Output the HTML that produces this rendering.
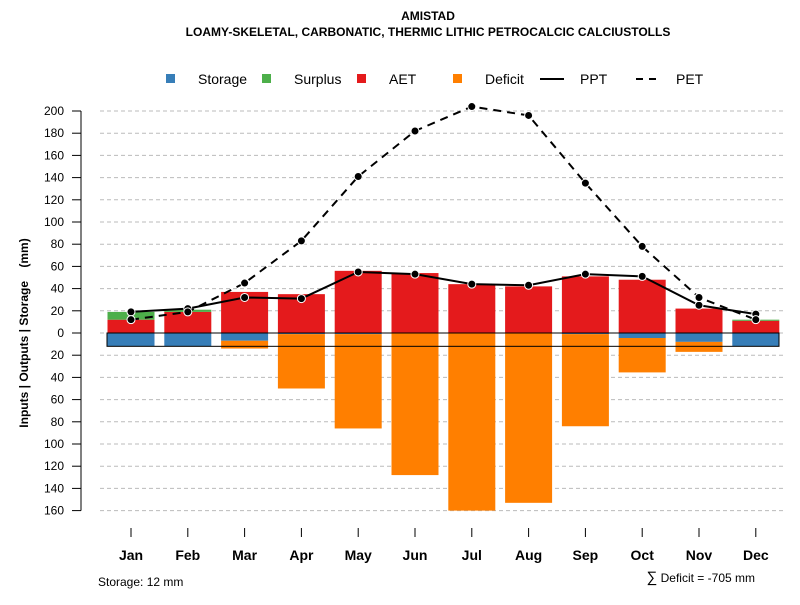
<!DOCTYPE html>
<html><head><meta charset="utf-8"><style>
body{margin:0;background:#fff}
svg text{font-family:"Liberation Sans",Arial,sans-serif}
</style></head><body>
<svg id="c" width="800" height="600" viewBox="0 0 800 600" xmlns="http://www.w3.org/2000/svg">
<text x="428" y="20" font-size="12" font-weight="bold" text-anchor="middle">AMISTAD</text>
<text x="428" y="36" font-size="12" font-weight="bold" text-anchor="middle">LOAMY-SKELETAL, CARBONATIC, THERMIC LITHIC PETROCALCIC CALCIUSTOLLS</text>
<g id="legend" font-size="14">
<rect x="166" y="74" width="9" height="9" fill="#377EB8"/><text x="198" y="84">Storage</text>
<rect x="262" y="74" width="9" height="9" fill="#4DAF4A"/><text x="294" y="84">Surplus</text>
<rect x="357" y="74" width="9" height="9" fill="#E41A1C"/><text x="389" y="84">AET</text>
<rect x="453" y="74" width="9" height="9" fill="#FF7F00"/><text x="485" y="84">Deficit</text>
<line x1="540" y1="79" x2="564" y2="79" stroke="#000" stroke-width="2"/><text x="580" y="84">PPT</text>
<line x1="636" y1="79" x2="660" y2="79" stroke="#000" stroke-width="2" stroke-dasharray="7,6"/><text x="676" y="84">PET</text>
</g>
<g id="grid"></g><g id="bars"></g><g id="lines"></g><g id="axes"></g>
<text transform="translate(28,333) rotate(-90)" font-size="12" font-weight="bold" text-anchor="middle">Inputs | Outputs | Storage&#160;&#160;&#160;&#160;(mm)</text>
<text x="98" y="586" font-size="12">Storage: 12 mm</text>
<text x="755" y="582" font-size="12" text-anchor="end"><tspan font-size="15">∑</tspan> Deficit = -705 mm</text>
</svg>
<script>
const months=["Jan","Feb","Mar","Apr","May","Jun","Jul","Aug","Sep","Oct","Nov","Dec"];
const aet=[12,19,37,35,56,54,44,42,51,48,22,11];
const surplus=[7,2,0,0,0,0,0,0,0,0,0,1];
const storage=[12,12,7,1,1,0,0,0,1,4.5,8,12];
const deficit=[0,0,7,49,85,128,160,153,83,31,9,0];
const ppt=[19,22,32,31,55,53,44,43,53,51,25,17];
const pet=[12,19,45,83,141,182,204,196,135,78,32,12];
const yTicks=[200,180,160,140,120,100,80,60,40,20,0,-20,-40,-60,-80,-100,-120,-140,-160];
const NS="http://www.w3.org/2000/svg";
const y=v=>333-v*1.11;
const x=i=>131+i*56.8;
function mk(tag,attrs,parent){const e=document.createElementNS(NS,tag);for(const k in attrs)e.setAttribute(k,attrs[k]);document.getElementById(parent).appendChild(e);return e;}
yTicks.forEach(t=>{
 let g=mk("line",{x1:100,x2:785,y1:y(t),y2:y(t),stroke:"#bbb","stroke-dasharray":"4,3"},"grid");
 
 
 let tk=mk("line",{x1:72,x2:81,y1:y(t),y2:y(t),stroke:"#000"},"axes");
 
 
 let lb=mk("text",{x:64,y:y(t)+4,"font-size":12,"text-anchor":"end"},"axes");lb.textContent=Math.abs(t);
 
 
});
let ax=mk("line",{x1:81,x2:81,y1:y(200),y2:y(-160),stroke:"#000"},"axes");


const bw=47;
months.forEach((m,i)=>{
 const cx=x(i),l=cx-bw/2;
 const add=(y1,y2,c,n)=>{if(Math.abs(y2-y1)<0.01)return;let r=mk("rect",{x:l,y:Math.min(y1,y2),width:bw,height:Math.abs(y2-y1),fill:c},"bars");
  
  };
 add(y(0),y(aet[i]),"#E41A1C","aet-bar-"+m.toLowerCase());
 add(y(aet[i]),y(aet[i]+surplus[i]),"#4DAF4A","surplus-bar-"+m.toLowerCase());
 add(y(0),y(-storage[i]),"#377EB8","storage-bar-"+m.toLowerCase());
 add(y(-storage[i]),y(-storage[i]-deficit[i]),"#FF7F00","deficit-bar-"+m.toLowerCase());
 let t=mk("line",{x1:cx,x2:cx,y1:528,y2:537,stroke:"#000"},"axes");
 
 
 let lb=mk("text",{x:cx,y:560,"font-size":14,"font-weight":"bold","text-anchor":"middle"},"axes");lb.textContent=m;
 
 
});
let sb=mk("rect",{x:107,y:y(0),width:672,height:y(-12)-y(0),fill:"none",stroke:"#000","stroke-width":1},"bars");


[["ppt",ppt,""],["pet",pet,"8,6"]].forEach(([n,arr,d])=>{
 let p=mk("polyline",{points:arr.map((v,i)=>x(i)+","+y(v)).join(" "),fill:"none",stroke:"#000","stroke-width":2,"stroke-dasharray":d},"lines");
 
 
 arr.forEach((v,i)=>{let c=mk("circle",{cx:x(i),cy:y(v),r:4,fill:"#000",stroke:"#fff","stroke-width":1},"lines");
  
  });
});
</script>
</body></html>
